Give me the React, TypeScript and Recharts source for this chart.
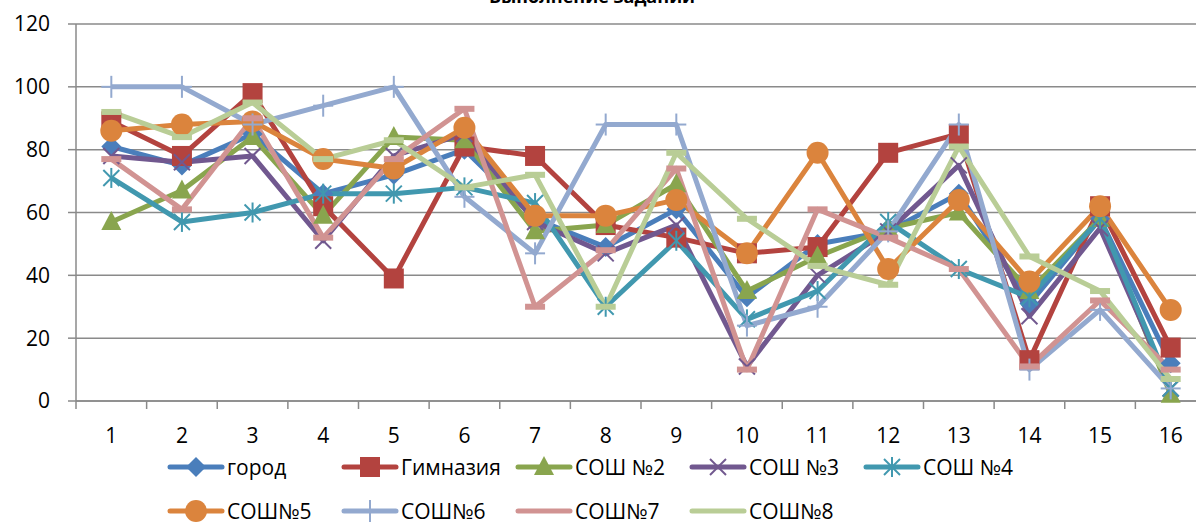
import { LineChart, Line, XAxis, YAxis, CartesianGrid, Legend } from "recharts";

const tasks = [1, 2, 3, 4, 5, 6, 7, 8, 9, 10, 11, 12, 13, 14, 15, 16];

const gorod = [81, 75, 85, 66, 72, 80, 58, 49, 61, 33, 50, 54, 66, 31, 58, 12];
const gimnaziya = [89, 78, 98, 62, 39, 81, 78, 56, 52, 47, 49, 79, 85, 13, 62, 17];
const sosh2 = [57, 67, 84, 59, 84, 83, 54, 56, 69, 35, 46, 55, 60, 35, 58, 2];
const sosh3 = [78, 76, 78, 51, 78, 85, 57, 47, 56, 11, 40, 54, 75, 27, 55, 4];
const sosh4 = [71, 57, 60, 66, 66, 68, 63, 30, 51, 26, 35, 57, 42, 33, 58, 4];
const sosh5 = [86, 88, 89, 77, 74, 87, 59, 59, 64, 47, 79, 42, 64, 38, 62, 29];
const sosh6 = [100, 100, 88, 94, 100, 65, 47, 88, 88, 24, 30, 54, 88, 10, 29, 4];
const sosh7 = [77, 61, 90, 52, 77, 93, 30, 48, 74, 10, 61, 52, 42, 11, 32, 10];
const sosh8 = [92, 84, 95, 77, 83, 68, 72, 30, 79, 58, 43, 37, 81, 46, 35, 7];

const yTicks = [0, 20, 40, 60, 80, 100, 120];

type Shape = "diamond" | "square" | "triangle" | "x" | "star" | "circle" | "plus" | "dash";

const series: { key: string; name: string; color: string; shape: Shape; values: number[] }[] = [
  { key: "gorod", name: "город", color: "#4A7EBB", shape: "diamond", values: gorod },
  { key: "gim", name: "Гимназия", color: "#B3433F", shape: "square", values: gimnaziya },
  { key: "s2", name: "СОШ №2", color: "#89A54E", shape: "triangle", values: sosh2 },
  { key: "s3", name: "СОШ №3", color: "#71588F", shape: "x", values: sosh3 },
  { key: "s4", name: "СОШ №4", color: "#4198AF", shape: "star", values: sosh4 },
  { key: "s5", name: "СОШ№5", color: "#DB843D", shape: "circle", values: sosh5 },
  { key: "s6", name: "СОШ№6", color: "#93A9CF", shape: "plus", values: sosh6 },
  { key: "s7", name: "СОШ№7", color: "#D19392", shape: "dash", values: sosh7 },
  { key: "s8", name: "СОШ№8", color: "#B9CD96", shape: "dash", values: sosh8 },
];

const data = tasks.map((t, i) => {
  const row: Record<string, number> = { x: t };
  series.forEach((s) => {
    row[s.key] = s.values[i];
  });
  return row;
});

// boundary ticks between categories plus the labels in the middle
const xTicks: number[] = [];
for (let i = 0; i <= tasks.length; i++) {
  xTicks.push(i + 0.5);
  if (i < tasks.length) xTicks.push(tasks[i]);
}

const GRID = "#8a8a8a";
const FONT = "'Open Sans', 'Noto Sans', sans-serif";

function marker(shape: Shape, cx: number, cy: number, color: string, key?: string) {
  switch (shape) {
    case "diamond":
      return (
        <polygon key={key} points={`${cx},${cy - 10} ${cx + 10},${cy} ${cx},${cy + 10} ${cx - 10},${cy}`} fill={color} />
      );
    case "square":
      return <rect key={key} x={cx - 10} y={cy - 10} width={20} height={20} fill={color} />;
    case "triangle":
      return <polygon key={key} points={`${cx},${cy - 11} ${cx + 10},${cy + 8} ${cx - 10},${cy + 8}`} fill={color} />;
    case "x":
      return (
        <g key={key} stroke={color} strokeWidth={2}>
          <line x1={cx - 8} y1={cy - 8} x2={cx + 8} y2={cy + 8} />
          <line x1={cx - 8} y1={cy + 8} x2={cx + 8} y2={cy - 8} />
        </g>
      );
    case "star":
      return (
        <g key={key} stroke={color} strokeWidth={2}>
          <line x1={cx - 8} y1={cy - 8} x2={cx + 8} y2={cy + 8} />
          <line x1={cx - 8} y1={cy + 8} x2={cx + 8} y2={cy - 8} />
          <line x1={cx} y1={cy - 10} x2={cx} y2={cy + 10} />
        </g>
      );
    case "circle":
      return <circle key={key} cx={cx} cy={cy} r={11} fill={color} />;
    case "plus":
      return (
        <g key={key} stroke={color} strokeWidth={2}>
          <line x1={cx} y1={cy - 11} x2={cx} y2={cy + 11} />
          <line x1={cx - 10} y1={cy} x2={cx + 10} y2={cy} />
        </g>
      );
    case "dash":
      return <rect key={key} x={cx - 10} y={cy - 3} width={20} height={6} fill={color} />;
  }
}

const XTick = (props: any) => {
  const { x, y, payload } = props;
  const v = payload.value as number;
  if (Number.isInteger(v)) {
    return (
      <text x={x} y={y + 42} textAnchor="middle" fontSize={21} fill="#000" fontFamily={FONT}>
        {v}
      </text>
    );
  }
  return <line x1={x} y1={y} x2={x} y2={y + 8} stroke={GRID} strokeWidth={1.5} />;
};

const LegendContent = () => (
  <div style={{ display: "flex", flexWrap: "wrap", width: 870, marginLeft: 167, fontFamily: FONT }}>
    {series.map((s) => (
      <div key={s.key} style={{ width: 174, height: 44, display: "flex", alignItems: "center" }}>
        <svg width={58} height={24}>
          <line x1={3} y1={12} x2={55} y2={12} stroke={s.color} strokeWidth={5} strokeLinecap="round" />
          {s.shape !== "dash" && marker(s.shape, 29, 12, s.color)}
        </svg>
        <span style={{ fontSize: 21, color: "#000", marginLeft: 2, whiteSpace: "nowrap" }}>{s.name}</span>
      </div>
    ))}
  </div>
);

export default function App() {
  return (
    <div style={{ width: 1196, height: 524, overflow: "hidden", position: "relative", background: "#fff", fontFamily: FONT }}>
      <style>{`body{margin:0}`}</style>
      <div
        style={{
          position: "absolute",
          top: -16,
          left: 0,
          width: 1184,
          textAlign: "center",
          fontSize: 18,
          fontWeight: "bold",
          color: "#000",
          zIndex: 2,
        }}
      >
        Выполнение заданий
      </div>
      <LineChart width={1210} height={524} data={data} margin={{ top: 24, right: 4, left: 0, bottom: 0 }}>
        <CartesianGrid horizontal vertical={false} stroke={GRID} strokeWidth={1.5} />
        <XAxis
          dataKey="x"
          type="number"
          domain={[0.5, 16.5]}
          ticks={xTicks}
          interval={0}
          tick={<XTick />}
          tickLine={false}
          tickSize={0}
          tickMargin={0}
          axisLine={{ stroke: GRID, strokeWidth: 1.5 }}
          height={35}
        />
        <YAxis
          domain={[0, 120]}
          ticks={yTicks}
          interval={0}
          width={76}
          tickSize={8}
          tickMargin={18}
          tickLine={{ stroke: GRID, strokeWidth: 1.5 }}
          axisLine={{ stroke: GRID, strokeWidth: 1.5 }}
          tick={{ fill: "#000", fontSize: 21 }}
        />
        <Legend
          verticalAlign="bottom"
          content={<LegendContent />}
          wrapperStyle={{ top: 445, left: 0, width: 1210, height: 88 }}
        />
        {series.map((s) => (
          <Line
            key={s.key}
            dataKey={s.key}
            name={s.name}
            type="linear"
            stroke={s.color}
            strokeWidth={5}
            strokeLinejoin="round"
            isAnimationActive={false}
            dot={(p: any) => marker(s.shape, p.cx, p.cy, s.color, `${s.key}-${p.index}`)}
            activeDot={false}
          />
        ))}
      </LineChart>
    </div>
  );
}
